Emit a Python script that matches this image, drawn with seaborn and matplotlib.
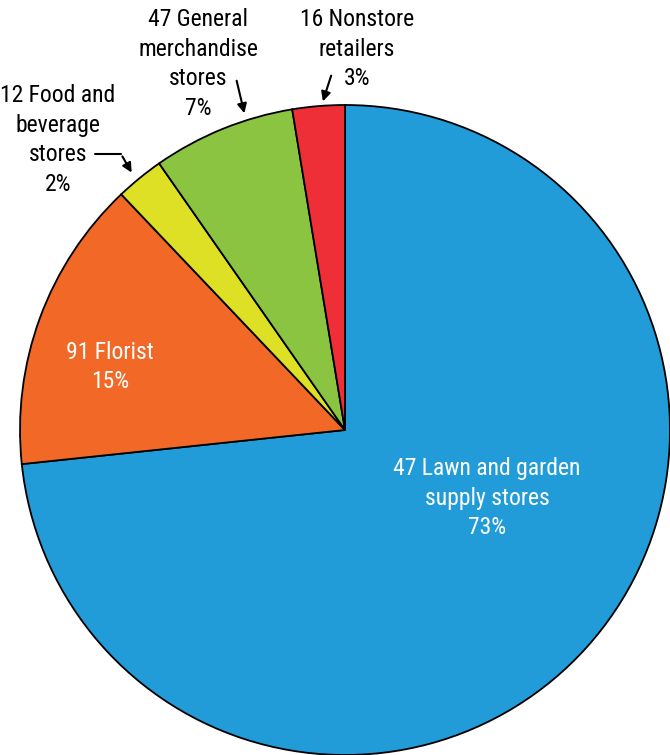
import matplotlib
matplotlib.use("Agg")
import matplotlib.pyplot as plt
from matplotlib import font_manager as fm
import seaborn as sns

# ---- data ----
categories = ["Lawn and garden\nsupply stores", "Florist", "Food and\nbeverage\nstores",
              "General\nmerchandise\nstores", "Nonstore\nretailers"]
counts = [47, 91, 12, 47, 16]
shares = [73.4, 14.6, 2.4, 7.1, 2.6]
pct_labels = ["73%", "15%", "2%", "7%", "3%"]
colors = ["#229CD8", "#F26826", "#DDE024", "#8BC440", "#EE2F37"]

sns.set_theme(style="white")

# pick a condensed face if one is installed
font_file = None
cands = []
for f in fm.fontManager.ttflist:
    st = str(f.stretch).lower()
    nm = f.name.lower()
    fn = f.fname.lower()
    if f.style != "normal":
        continue
    if ("narrow" in nm or "condensed" in nm or "condensed" in st or "condensed" in fn
            or "narrow" in fn):
        w = f.weight if isinstance(f.weight, int) else 400
        if w in (400, "normal") and "bold" not in fn and "light" not in fn and "semi" not in fn:
            pri = 0 if "narrow" in nm or "narrow" in fn else 1
            if "roboto" in fn:
                pri = -1
            cands.append((pri, f.fname))
cands.sort()
if cands:
    font_file = cands[0][1]
    fp_kw = dict(fontproperties=fm.FontProperties(fname=font_file, size=17))
else:
    plt.rcParams['font.family'] = ['DejaVu Sans']
    fp_kw = dict(fontsize=13)

W, H = 670, 755
fig = plt.figure(figsize=(W / 100, H / 100), dpi=100)
ax = fig.add_axes([0, 0, 1, 1])

cx, cy, R = 345, 430, 325
def P(px, py):
    return ((px - cx) / R, (cy - py) / R)

ax.pie(shares, colors=colors, startangle=90, counterclock=False, radius=1,
       wedgeprops=dict(edgecolor="black", linewidth=1.3))
ax.set_xlim(-cx / R, (W - cx) / R)
ax.set_ylim(-(H - cy) / R, cy / R)
ax.set_aspect("auto")
ax.axis("off")

labels = [f"{c} {n}\n{p}" for c, n, p in zip(counts, categories, pct_labels)]
pos = [(487, 498), (110, 367), (58, 140), (198, 64), (357, 49)]
tcol = ["white", "white", "black", "black", "black"]
for lab, (px, py), col in zip(labels, pos, tcol):
    x, y = P(px, py)
    ax.text(x, y, lab, ha="center", va="center", color=col,
            linespacing=1.38, **fp_kw)

ap = dict(arrowstyle="-|>", color="black", lw=1.5, mutation_scale=14)
x0, y0 = P(95, 154); x1, y1 = P(121, 154)
ax.plot([x0, x1], [y0, y1], color="black", lw=1.5)
ax.annotate("", xy=P(133, 175), xytext=P(121, 154), arrowprops=ap)
ax.annotate("", xy=P(245, 116), xytext=P(236, 78), arrowprops=ap)
ax.annotate("", xy=P(322, 104), xytext=P(332, 73), arrowprops=ap)

fig.savefig("out.png", dpi=100)
